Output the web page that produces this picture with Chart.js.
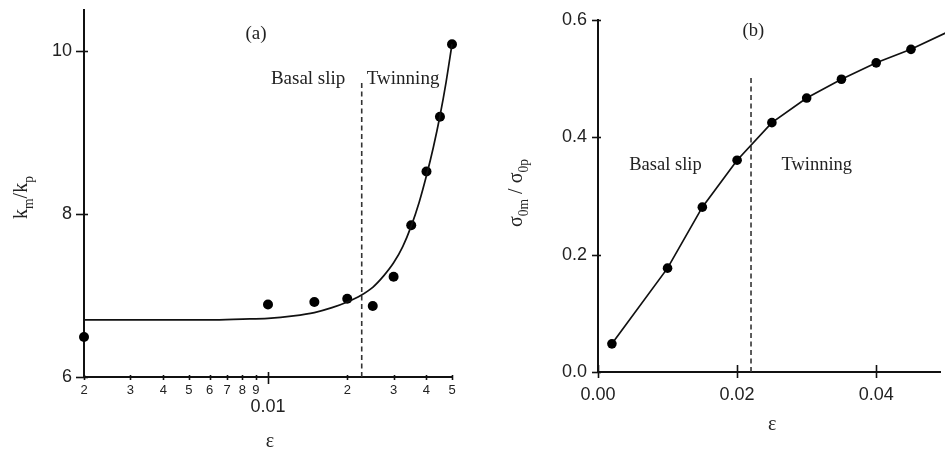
<!DOCTYPE html>
<html><head><meta charset="utf-8">
<script src="https://cdn.jsdelivr.net/npm/chart.js@4.4.1/dist/chart.umd.min.js"></script>
<style>
html,body{margin:0;padding:0;background:#fff;overflow:hidden;width:945px;height:450px;}
canvas{position:absolute;top:0;}
</style></head><body>
<canvas id="cA" width="480" height="450" style="left:0"></canvas>
<canvas id="cB" width="465" height="450" style="left:480px"></canvas>
<script>
// ---------- Panel (a) data ----------
const strainA = [0.002, 0.01, 0.015, 0.02, 0.025, 0.03, 0.035, 0.04, 0.045, 0.05];
const ratioKA = [6.49, 6.89, 6.92, 6.96, 6.87, 7.23, 7.86, 8.52, 9.19, 10.08];
const fitStrainA = [0.002, 0.004, 0.006, 0.008, 0.01, 0.0125, 0.015, 0.0175, 0.02, 0.0225, 0.025, 0.0275, 0.03, 0.0325, 0.035, 0.0375, 0.04, 0.0425, 0.045, 0.0475, 0.05];
const fitRatioKA = [6.70, 6.70, 6.70, 6.71, 6.72, 6.75, 6.79, 6.85, 6.92, 7.00, 7.10, 7.24, 7.40, 7.60, 7.85, 8.14, 8.47, 8.82, 9.20, 9.62, 10.08];
const dividerStrainA = [0.0227, 0.0227];
const dividerKA = [6, 9.63];
const xTickValuesA = [0.002, 0.003, 0.004, 0.005, 0.006, 0.007, 0.008, 0.009, 0.01, 0.02, 0.03, 0.04, 0.05];
const xTickLabelsA = ['2', '3', '4', '5', '6', '7', '8', '9', '0.01', '2', '3', '4', '5'];
const xMajorTickA = 0.01;
const yTickValuesA = [6, 8, 10];
const yTickLabelsA = ['6', '8', '10'];

// ---------- Panel (b) data ----------
const strainB = [0.002, 0.01, 0.015, 0.02, 0.025, 0.03, 0.035, 0.04, 0.045, 0.05];
const ratioSigmaB = [0.048, 0.177, 0.281, 0.361, 0.425, 0.467, 0.499, 0.527, 0.550, 0.578];
const dividerStrainB = [0.022, 0.022];
const dividerSigmaB = [0, 0.502];
const xTickValuesB = [0, 0.02, 0.04];
const xTickLabelsB = ['0.00', '0.02', '0.04'];
const yTickValuesB = [0, 0.2, 0.4, 0.6];
const yTickLabelsB = ['0.0', '0.2', '0.4', '0.6'];

const SANS = '"Liberation Sans", Arial, sans-serif';
const SERIF = '"Liberation Serif", "Times New Roman", serif';
const INK = '#111';
const TXT = '#222';

function pts(xs, ys) { return xs.map((x, i) => ({x: x, y: ys[i]})); }
function noPad(s) { s.paddingTop = 0; s.paddingBottom = 0; s.paddingLeft = 0; s.paddingRight = 0; }

function drawRuns(ctx, runs, x, y, rotate, size) {
  ctx.save();
  ctx.translate(x, y);
  if (rotate) ctx.rotate(-Math.PI / 2);
  ctx.fillStyle = TXT;
  ctx.textBaseline = 'alphabetic';
  ctx.textAlign = 'left';
  const sub = size * 0.68;
  let total = 0;
  const widths = runs.map(r => {
    ctx.font = (r.sub ? sub : size) + 'px ' + SERIF;
    const w = ctx.measureText(r.t).width;
    total += w;
    return w;
  });
  let cx = -total / 2;
  runs.forEach((r, i) => {
    ctx.font = (r.sub ? sub : size) + 'px ' + SERIF;
    ctx.fillText(r.t, cx, r.sub ? size * 0.3 : 0);
    cx += widths[i];
  });
  ctx.restore();
}

const decor = {
  id: 'decor',
  afterDraw(chart, args, o) {
    const ctx = chart.ctx;
    const xs = chart.scales.x, ys = chart.scales.y;
    const area = chart.chartArea;
    ctx.save();
    ctx.strokeStyle = INK;
    ctx.lineWidth = 1.6;
    xs.ticks.forEach(t => {
      const px = Math.round(xs.getPixelForValue(t.value)) + 0.5;
      const big = o.xMajor !== undefined && t.value === o.xMajor;
      const up = big ? o.xMajorIn : o.xIn, dn = big ? o.xMajorOut : o.xOut;
      ctx.beginPath();
      ctx.moveTo(px, area.bottom - up);
      ctx.lineTo(px, area.bottom + dn);
      ctx.stroke();
    });
    ys.ticks.forEach(t => {
      const py = Math.round(ys.getPixelForValue(t.value)) + 0.5;
      ctx.beginPath();
      ctx.moveTo(area.left - o.yOut, py);
      ctx.lineTo(area.left + o.yIn, py);
      ctx.stroke();
    });
    ctx.restore();
    ctx.save();
    ctx.fillStyle = TXT;
    ctx.textAlign = 'center';
    ctx.textBaseline = 'middle';
    ctx.font = o.noteSize + 'px ' + SERIF;
    o.notes.forEach(n => {
      ctx.fillText(n.text, xs.getPixelForValue(n.x), ys.getPixelForValue(n.y));
    });
    ctx.restore();
    drawRuns(ctx, o.yTitle, area.left - o.yTitleOffset, (area.top + area.bottom) / 2 + o.yTitleShift, true, 20);
    drawRuns(ctx, [{t: 'ε'}], (area.left + area.right) / 2 + o.xTitleShift, area.bottom + o.xTitleOffset, false, 20);
  }
};

// ---------- Chart (a) ----------
new Chart(document.getElementById('cA'), {
  type: 'scatter',
  data: {
    datasets: [
      {data: pts(fitStrainA, fitRatioKA), showLine: true, pointRadius: 0, borderColor: INK, borderWidth: 1.7, cubicInterpolationMode: 'monotone', clip: false},
      {data: pts(dividerStrainA, dividerKA), showLine: true, pointRadius: 0, borderColor: '#333', borderWidth: 1.6, borderDash: [5, 3.5]},
      {data: pts(strainA, ratioKA), showLine: false, pointRadius: 5, backgroundColor: '#000', borderWidth: 0, clip: false}
    ]
  },
  options: {
    responsive: false, animation: false, devicePixelRatio: 1,
    layout: {padding: {left: 0, top: 10, right: 28, bottom: 0}},
    plugins: {
      legend: {display: false}, tooltip: {enabled: false},
      decor: {
        xMajor: xMajorTickA, xIn: 2, xOut: 3, xMajorIn: 5, xMajorOut: 7, yIn: 4, yOut: 8,
        noteSize: 19,
        notes: [
          {text: '(a)', x: 0.009, y: 10.21},
          {text: 'Basal slip', x: 0.0142, y: 9.65},
          {text: 'Twinning', x: 0.0326, y: 9.65}
        ],
        yTitle: [{t: 'k'}, {t: 'm', sub: true}, {t: '/k'}, {t: 'p', sub: true}],
        yTitleOffset: 57, yTitleShift: 4,
        xTitleShift: 2, xTitleOffset: 70
      }
    },
    scales: {
      x: {
        type: 'logarithmic', min: 0.002, max: 0.05,
        afterFit: s => { s.height = 73; noPad(s); },
        afterBuildTicks: s => { s.ticks = xTickValuesA.map(v => ({value: v, major: v === xMajorTickA})); },
        grid: {display: false, drawTicks: false},
        border: {display: true, color: INK, width: 2},
        ticks: {
          autoSkip: false, maxRotation: 0, minRotation: 0, padding: 6, color: TXT,
          font: c => (c.tick && c.tick.value === xMajorTickA) ? {family: SANS, size: 18, lineHeight: 0.88} : {family: SANS, size: 13, lineHeight: 1.2},
          callback: (v, i) => xTickLabelsA[i] === '0.01' ? ['', xTickLabelsA[i]] : xTickLabelsA[i]
        }
      },
      y: {
        min: 6, max: 10.5,
        afterFit: s => { s.width = 84; noPad(s); },
        afterBuildTicks: s => { s.ticks = yTickValuesA.map(v => ({value: v})); },
        grid: {display: false, drawTicks: false},
        border: {display: true, color: INK, width: 2},
        ticks: {padding: 12, color: TXT, font: {family: SANS, size: 18}, callback: (v, i) => yTickLabelsA[i]}
      }
    }
  },
  plugins: [decor]
});

// ---------- Chart (b) ----------
new Chart(document.getElementById('cB'), {
  type: 'scatter',
  data: {
    datasets: [
      {data: pts(strainB, ratioSigmaB), showLine: true, pointRadius: 4.8, backgroundColor: '#000', borderColor: INK, borderWidth: 1.7, pointBorderWidth: 0, tension: 0, clip: false},
      {data: pts(dividerStrainB, dividerSigmaB), showLine: true, pointRadius: 0, borderColor: '#333', borderWidth: 1.6, borderDash: [5, 3.5]}
    ]
  },
  options: {
    responsive: false, animation: false, devicePixelRatio: 1,
    layout: {padding: {left: 0, top: 20, right: 0, bottom: 0}},
    plugins: {
      legend: {display: false}, tooltip: {enabled: false},
      decor: {
        xIn: 7, xOut: 6, yIn: 3, yOut: 6,
        noteSize: 18.5,
        notes: [
          {text: '(b)', x: 0.02234, y: 0.581},
          {text: 'Basal slip', x: 0.0097, y: 0.352},
          {text: 'Twinning', x: 0.03145, y: 0.353}
        ],
        yTitle: [{t: 'σ'}, {t: '0m', sub: true}, {t: ' / σ'}, {t: '0p', sub: true}],
        yTitleOffset: 76, yTitleShift: -3,
        xTitleShift: 3, xTitleOffset: 58
      }
    },
    scales: {
      x: {
        type: 'linear', min: 0, max: 0.0492,
        afterFit: s => { s.height = 78; noPad(s); },
        afterBuildTicks: s => { s.ticks = xTickValuesB.map(v => ({value: v})); },
        grid: {display: false, drawTicks: false},
        border: {display: true, color: INK, width: 2},
        ticks: {autoSkip: false, maxRotation: 0, padding: 12, color: TXT, font: {family: SANS, size: 18}, callback: (v, i) => xTickLabelsB[i]}
      },
      y: {
        min: 0, max: 0.6,
        afterFit: s => { s.width = 118; noPad(s); },
        afterBuildTicks: s => { s.ticks = yTickValuesB.map(v => ({value: v})); },
        grid: {display: false, drawTicks: false},
        border: {display: true, color: INK, width: 2},
        ticks: {padding: 11, color: TXT, font: {family: SANS, size: 18}, callback: (v, i) => yTickLabelsB[i]}
      }
    }
  },
  plugins: [decor]
});
</script>
</body></html>
